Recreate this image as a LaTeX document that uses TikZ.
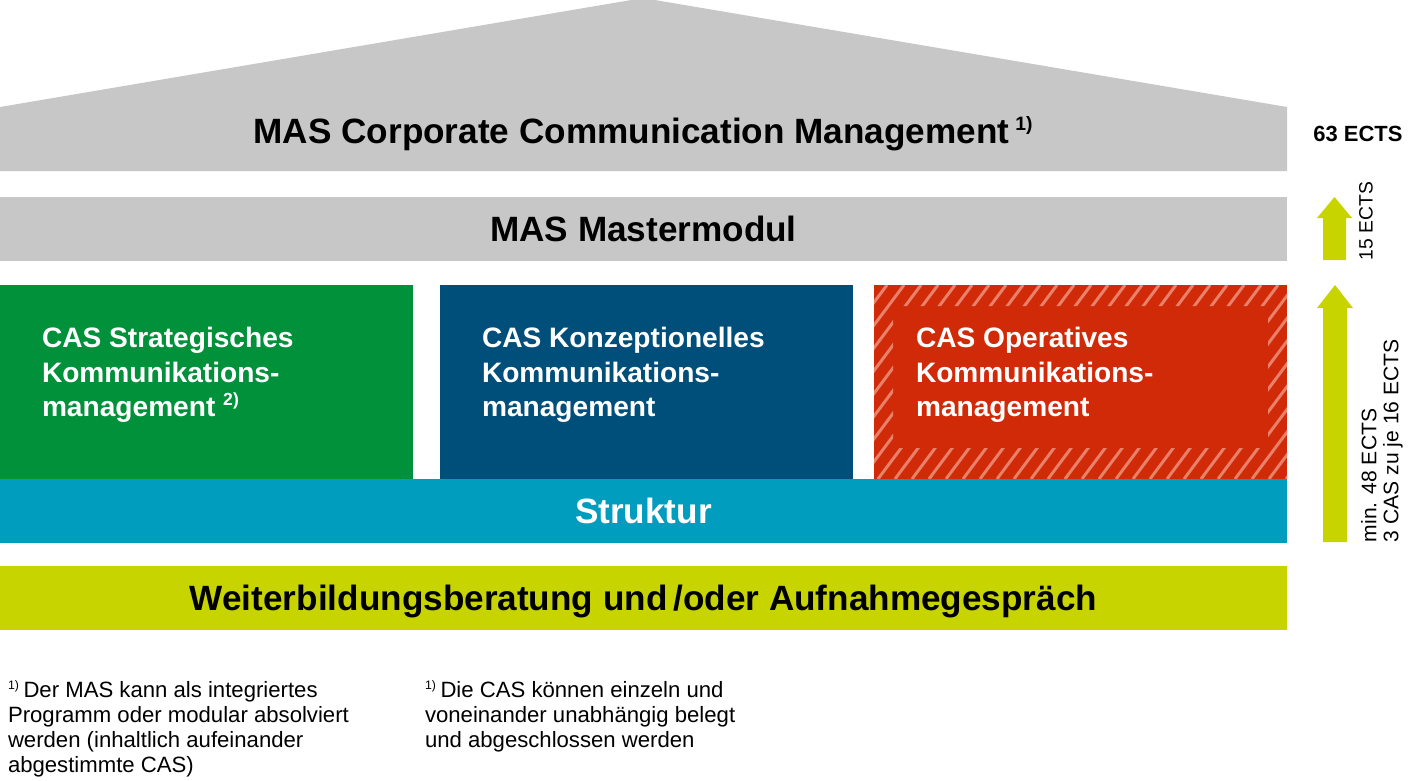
\documentclass[tikz,border=0pt]{standalone}
\usepackage{fontspec}
\setmainfont{Liberation Sans}
\usetikzlibrary{positioning}
\definecolor{roofgrey}{HTML}{C6C7C6}
\definecolor{casgreen}{HTML}{00913A}
\definecolor{casblue}{HTML}{004F7A}
\definecolor{casred}{HTML}{D12A08}
\definecolor{hatchred}{HTML}{E8806A}
\definecolor{structteal}{HTML}{009DBE}
\definecolor{baselime}{HTML}{C8D400}
\newcommand*{\fnmark}[2][7]{\textsuperscript{\fontsize{#1}{#1}\selectfont #2}}

\begin{document}
\begin{tikzpicture}[x=1cm, y=-1cm,
    every node/.style = {inner sep=0pt, outer sep=0pt},
    band/.style    = {draw=none, minimum width=25.74cm, minimum height=1.28cm, anchor=north west},
    casbox/.style  = {draw=none, minimum width=8.26cm, minimum height=3.88cm, anchor=north west},
    bandtext/.style = {font=\fontsize{20}{24}\selectfont\bfseries},
    castext/.style = {text=white, align=left, anchor=north west,
      font=\fontsize{16}{19.8}\selectfont\bfseries},
    ects/.style    = {rotate=90, anchor=north west, align=left,
      font=\fontsize{12}{12.6}\selectfont},
    footnote/.style = {anchor=north west, align=left,
      font=\fontsize{12.6}{14.2}\selectfont},
    upArrow/.style = {fill=baselime, draw=none},
    hatch/.style   = {draw=hatchred, line width=1.7pt}
  ]
  \useasboundingbox (0,0) rectangle (28.32,15.62);

  % roof
  \fill[roofgrey] (0,3.42) -- (0,2.14) -- (12.86,-0.04) -- (25.74,2.14) -- (25.74,3.42) -- cycle;
  \node[bandtext] (roofText) at (12.87,2.68)
    {MAS Corporate Communication Management\,\fnmark[11]{1)}};

  % bands
  \node[band, fill=roofgrey] (master) at (0,3.93) {};
  \node[bandtext] at (master.center) {MAS Mastermodul};

  \node[casbox, fill=casgreen] (strategic) at (0,5.70) {};
  \node[casbox, fill=casblue]  (conceptual) at (8.80,5.70) {};
  \node[casbox, fill=casred]   (operative) at (17.48,5.70) {};

  % hatched border of the operative CAS
  \begin{scope}[even odd rule]
    \clip (17.48,5.70) rectangle (25.74,9.58)
      (17.86,6.12) rectangle (25.36,8.96);
    \foreach \i in {-4,-3.66,...,26}
      \draw[hatch] (17.48+\i,9.58) -- ++(2.9,-3.88);
  \end{scope}

  \node[castext] (strategicText) at ([xshift=0.84cm,yshift=-0.84cm]strategic.north west)
    {CAS Strategisches\\Kommunikations-\\management \fnmark[10]{2)}};
  \node[castext] (conceptualText) at ([xshift=0.84cm,yshift=-0.84cm]conceptual.north west)
    {CAS Konzeptionelles\\Kommunikations-\\management};
  \node[castext] (operativeText) at ([xshift=0.84cm,yshift=-0.84cm]operative.north west)
    {CAS Operatives\\Kommunikations-\\management};

  \node[band, fill=structteal] (structure) at (0,9.58) {};
  \node[bandtext, text=white] at (structure.center) {Struktur};

  \node[band, fill=baselime] (counselling) at (0,11.32) {};
  \node[bandtext, yshift=-0.06cm] at (counselling.center) {Weiterbildungsberatung und\,/oder Aufnahmegespräch};

  % ECTS column
  \node[font=\fontsize{12.5}{14}\selectfont\bfseries] (totalEcts) at (27.16,2.68) {63 ECTS};

  \fill[upArrow] (26.46,5.20) -- (26.46,4.36) -- (26.34,4.36) -- (26.69,3.94)
    -- (27.04,4.36) -- (26.92,4.36) -- (26.92,5.20) -- cycle;
  \node[ects, font=\fontsize{11}{12}\selectfont] (masterEcts) at (27.18,5.20) {15 ECTS};

  \fill[upArrow] (26.46,10.84) -- (26.46,6.16) -- (26.34,6.16) -- (26.70,5.70)
    -- (27.06,6.16) -- (26.94,6.16) -- (26.94,10.84) -- cycle;
  \node[ects] (casEcts) at (27.22,10.84) {min. 48 ECTS\\3 CAS zu je 16 ECTS};

  % footnotes
  \node[footnote] (noteMas) at (0.16,13.62)
    {\fnmark{1)}\,Der MAS kann als integriertes\\Programm oder modular absolviert\\werden (inhaltlich aufeinander\\abgestimmte CAS)};
  \node[footnote] (noteCas) at (8.50,13.62)
    {\fnmark{1)}\,Die CAS können einzeln und\\voneinander unabhängig belegt\\und abgeschlossen werden};
\end{tikzpicture}
\end{document}
